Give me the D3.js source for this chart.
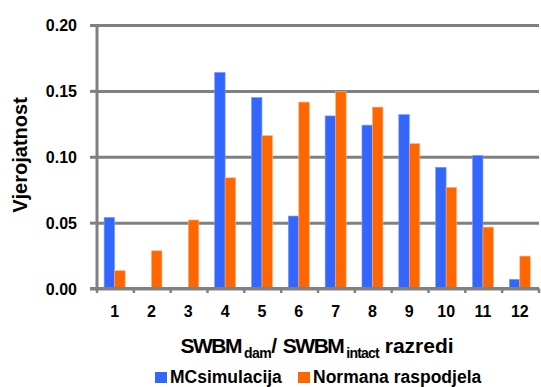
<!DOCTYPE html>
<html><head><meta charset="utf-8">
<script src="https://cdn.jsdelivr.net/npm/d3@7/dist/d3.min.js"></script>
<style>
body{margin:0;background:#fff;}
svg text{font-family:"Liberation Sans",Arial,sans-serif;font-weight:bold;fill:#000;}
</style></head><body>
<svg id="c" width="541" height="387"></svg>
<script>
const categories = ["1","2","3","4","5","6","7","8","9","10","11","12"];
const seriesNames = ["MCsimulacija","Normana raspodjela"];
const mcValues = [0.054,0,0,0.164,0.145,0.055,0.131,0.124,0.132,0.092,0.101,0.007];
const normalValues = [0.0135,0.0286,0.052,0.084,0.116,0.1415,0.1495,0.1377,0.110,0.0767,0.0466,0.0246];
const yTicks = [0,0.05,0.10,0.15,0.20];
const colors = ["#3366FF","#FF6600"];

const svg = d3.select("#c");
const L=97, R=539, T=25, B=288.5;
const x = d3.scaleBand().domain(categories).range([L,R]).paddingInner(0.43).paddingOuter(0.215).align(0.45);
const xs = d3.scaleBand().domain(seriesNames).range([0,x.bandwidth()]);
const y = d3.scaleLinear().domain([0,0.2]).range([B,T]);
const grey="#808080";

// gridlines
const grid = svg.append("g").attr("transform",`translate(${L},0)`)
  .call(d3.axisLeft(y).tickValues(yTicks).tickSize(-(R-L)).tickFormat(""));
grid.selectAll("line").attr("stroke",grey).attr("stroke-width",3);
grid.select(".domain").remove();

// bars
const data = categories.map((c,i)=>({c, vals:[mcValues[i],normalValues[i]]}));
const g = svg.append("g");
data.forEach(d=>{
  d.vals.forEach((v,j)=>{
    if(v<=0) return;
    g.append("rect")
      .attr("x",x(d.c)+xs(seriesNames[j]))
      .attr("y",y(v))
      .attr("width",xs.bandwidth())
      .attr("height",y(0)-y(v))
      .attr("fill",colors[j])
      .attr("stroke",j==0?"#7f9fff":"#ffb080").attr("stroke-width",0.6);
  });
});

// y axis
const ya = svg.append("g").attr("transform",`translate(${L},0)`)
  .call(d3.axisLeft(y).tickValues(yTicks).tickSize(7).tickSizeOuter(0).tickPadding(13).tickFormat(d3.format(".2f")));
ya.select(".domain").attr("stroke",grey).attr("stroke-width",3).attr("d",`M0,${T}V${B+1.5}`);
ya.selectAll("line").attr("stroke",grey).attr("stroke-width",3);
ya.selectAll("text").style("font-size","16px").attr("dy","0.35em");

// x axis
const xa = svg.append("g").attr("transform",`translate(0,${B})`)
  .call(d3.axisBottom(x).tickSize(0).tickPadding(17));
xa.select(".domain").attr("stroke",grey).attr("stroke-width",3).attr("d",`M${L-7},0H${R}`);
xa.selectAll("text").style("font-size","16px");
const step = x.step();
xa.selectAll(".bnd").data(d3.range(categories.length+1)).enter().append("line")
  .attr("x1",i=>L+i*step).attr("x2",i=>L+i*step).attr("y1",0).attr("y2",4.5)
  .attr("stroke",grey).attr("stroke-width",2.5);

// x title
const xt = svg.append("text").attr("x",(L+R)/2-1).attr("y",353).attr("text-anchor","middle").style("font-size","21px");
xt.append("tspan").text("SWBM").attr("letter-spacing","-1.5");
xt.append("tspan").text("dam").style("font-size","14px").attr("dy",5).attr("dx",3).attr("letter-spacing","-0.5");
xt.append("tspan").text("/ ").attr("dy",-5);
xt.append("tspan").text("SWBM").attr("letter-spacing","-1.5");
xt.append("tspan").text("intact").style("font-size","14px").attr("dy",5).attr("dx",3).attr("letter-spacing","-0.8");
xt.append("tspan").text(" razredi").attr("dy",-5);

// y title
svg.append("text").attr("transform","translate(27,155) rotate(-90)").attr("text-anchor","middle")
  .style("font-size","20px").text("Vjerojatnost");

// legend
const lg = svg.append("g");
const items = [{n:seriesNames[0],x:155},{n:seriesNames[1],x:298}];
items.forEach((it,i)=>{
  lg.append("rect").attr("x",it.x).attr("y",372).attr("width",12).attr("height",11).attr("fill",colors[i]);
  lg.append("text").attr("x",it.x+15).attr("y",383).style("font-size","17.5px").text(it.n);
});
</script></body></html>
